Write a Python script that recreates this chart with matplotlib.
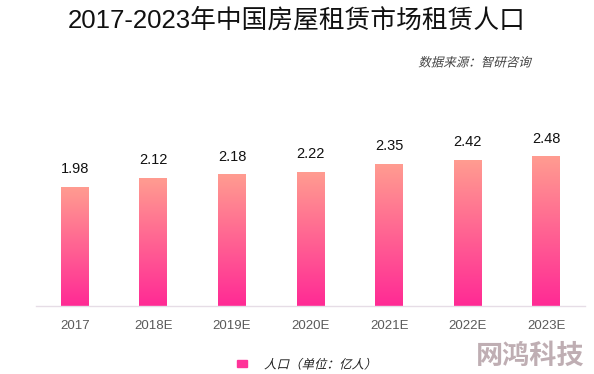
import numpy as np
import matplotlib
matplotlib.use("Agg")
import matplotlib.pyplot as plt
from matplotlib.colors import LinearSegmentedColormap
from matplotlib.textpath import TextPath
from matplotlib.patches import PathPatch
from matplotlib.font_manager import FontProperties
import matplotlib.transforms as mtransforms

years = ["2017", "2018E", "2019E", "2020E", "2021E", "2022E", "2023E"]
renters = [1.98, 2.12, 2.18, 2.22, 2.35, 2.42, 2.48]

title = "2017-2023年中国房屋租赁市场租赁人口"
source = "数据来源：智研咨询"
legend_label = "人口（单位：亿人）"
watermark = "网鸿科技"

CJK = ["Noto Sans CJK SC", "DejaVu Sans"]
LAT = ["Liberation Sans", "Noto Sans CJK SC"]
DPI = 100

# bottom pink -> top salmon
grad_cmap = LinearSegmentedColormap.from_list("bar", ["#FF2A95", "#FF9C90"])


def slanted_text(fig, px, py, s, size, color, ha="left"):
    # CJK fonts have no italic face, so skew the glyph outlines by hand
    tp = TextPath((0, 0), s, size=size, prop=FontProperties(family="Noto Sans CJK SC"))
    ext = tp.get_extents()
    w = ext.x1 * DPI / 72
    if ha == "right":
        px = px - w
    elif ha == "center":
        px = px - w / 2
    h = size * 0.36 * DPI / 72
    tr = (mtransforms.Affine2D().skew_deg(14, 0).scale(DPI / 72)
          .translate(px, fig.bbox.height - py - h))
    fig.patches.append(PathPatch(tp, transform=tr, color=color, lw=0))


fig = plt.figure(figsize=(5.94, 3.74), dpi=DPI)
ax = fig.add_axes([36/594, 68.3/374, 549/594, 205.7/374])

x = np.arange(len(years))
width = 0.356
grad = np.linspace(0, 1, 256).reshape(-1, 1)
for xi, v in zip(x, renters):
    ax.imshow(grad, extent=[xi - width/2, xi + width/2, 0, v], origin="lower",
              aspect="auto", cmap=grad_cmap, zorder=2)
    ax.annotate(f"{v:.2f}", (xi, v), xytext=(0, 8), textcoords="offset points",
                ha="center", va="bottom", fontsize=10.5, family=LAT, color="#111111")

ax.set_xlim(-0.492, 6.49)
ax.set_ylim(0, 205.7/60.1)
ax.set_xticks(x)
ax.set_xticklabels(years, family=LAT, fontsize=9.5, color="#5a5a5a")
ax.tick_params(axis="x", length=0, pad=10)
ax.set_yticks([])
for s in ["top", "right", "left"]:
    ax.spines[s].set_visible(False)
ax.spines["bottom"].set_color("#E6DDE6")
ax.spines["bottom"].set_linewidth(1)

fig.text(0.5, 1 - 21/374, title, ha="center", va="center", fontsize=18.5,
         family=["Liberation Sans", "Noto Sans CJK SC"], color="#111111")

slanted_text(fig, 530, 62, source, 9, "#444444", ha="right")

# legend
fig.patches.append(plt.Rectangle((237/594, 1 - 367/374), 10/594, 7.5/374,
                                 transform=fig.transFigure, color="#FF3399"))
slanted_text(fig, 264, 364, legend_label, 9, "#222222")

fig.text(530/594, 1 - 356/374, watermark, ha="center", va="center", fontsize=19.5,
         family=CJK, weight="bold", color="#BFAEB3")

fig.savefig("out.png", dpi=DPI)
